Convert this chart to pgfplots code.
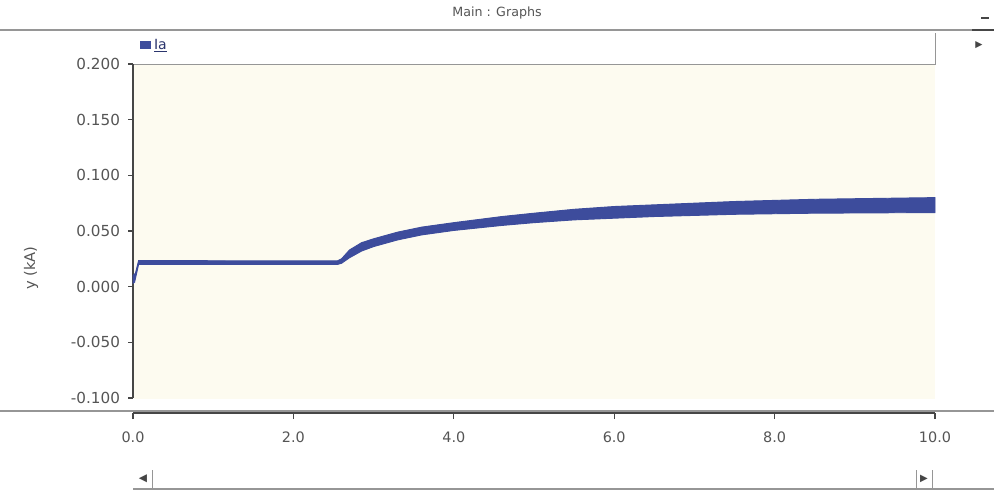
\documentclass[border=0pt]{standalone}
\usepackage{pgfplots}
\pgfplotsset{compat=1.18}
\usepackage{fontspec}
\setmainfont{DejaVu Sans}
\definecolor{iacol}{RGB}{61,76,156}
\definecolor{cream}{RGB}{253,251,240}
\definecolor{axcol}{RGB}{70,70,70}
\definecolor{txtcol}{RGB}{85,85,85}
\definecolor{sepcol}{RGB}{150,150,150}

\begin{document}
\begin{tikzpicture}
\useasboundingbox (0,0) rectangle (745.5pt,-369.75pt);
\begin{scope}[x=0.75pt,y=-0.75pt]
  \fill[white] (0,0) rectangle (994,493);
  \fill[cream] (134,64) rectangle (935,399);
  \node[txtcol, font=\fontsize{9.5}{11}\selectfont] at (497,13) {Main : Graphs};
  \draw[sepcol, line width=0.8pt] (0,30) -- (994,30);
  \draw[axcol, line width=1pt] (972,30) -- (994,30);
  \draw[axcol, line width=1.2pt] (981,18) -- (989,18);
  \node[axcol, font=\fontsize{7}{8}\selectfont] at (979,45) {▶};
  \draw[sepcol, line width=0.7pt] (133,64) -- (935,64) -- (935,33);
  \draw[sepcol, line width=0.8pt] (0,411) -- (994,411);
  % scrollbar
  \node[axcol, font=\fontsize{8}{9}\selectfont] at (143,479) {◀};
  \draw[sepcol, line width=0.6pt] (152,470) -- (152,488);
  \draw[sepcol, line width=0.6pt] (916,470) -- (916,488);
  \node[axcol, font=\fontsize{7.5}{9}\selectfont] at (924,479) {▶};
  \draw[sepcol, line width=0.6pt] (932,470) -- (932,488);
  \draw[sepcol, line width=0.9pt] (133,489) -- (994,489);
  \node[txtcol, rotate=90, font=\fontsize{11}{13}\selectfont] at (31,268) {y (kA)};
\end{scope}

\begin{axis}[
  at={(99.75pt,-298.5pt)}, anchor=south west,
  scale only axis, width=601.5pt, height=250.5pt,
  xmin=0, xmax=10, ymin=-0.1, ymax=0.2,
  hide x axis, axis y line=left,
  y axis line style={-, draw=axcol, line width=0.8pt},
  ytick={-0.1,-0.05,0,0.05,0.1,0.15,0.2},
  tick align=outside, major tick length=3.75pt,
  tick style={axcol, line width=0.8pt},
  yticklabel style={font=\fontsize{11.4}{13}\selectfont, text=txtcol, xshift=-2.5pt,
    /pgf/number format/fixed, /pgf/number format/fixed zerofill,
    /pgf/number format/precision=3, /pgf/number format/assume math mode=true},
  clip=false,
  legend style={draw=none, fill=none, inner sep=0pt,
    at={(axis description cs:0.009,1.057)}, anchor=west,
    font=\fontsize{10.5}{12}\selectfont},
  legend cell align=left,
  legend image code/.code={\fill[iacol] (0pt,-2.4pt) rectangle (7.5pt,2.4pt);},
]
\addplot[iacol, fill=iacol, line width=0.7pt] coordinates {
(0.00,0.0100) (0.03,0.0120) (0.07,0.0235) (1.00,0.0233) (2.00,0.0232) (2.55,0.0232)
(2.60,0.0250) (2.70,0.0330) (2.85,0.0395) (3.00,0.0430) (3.30,0.0490) (3.60,0.0535)
(4.00,0.0575) (4.60,0.0630) (5.00,0.0660) (5.50,0.0695) (6.00,0.0720) (6.50,0.0735)
(7.00,0.0750) (7.50,0.0765) (8.00,0.0775) (8.50,0.0785) (9.00,0.0790) (9.50,0.0795)
(10.00,0.0800)
(10.00,0.0665) (9.50,0.0664) (9.00,0.0662) (8.50,0.0660) (8.00,0.0655) (7.50,0.0650)
(7.00,0.0640) (6.50,0.0630) (6.00,0.0615) (5.50,0.0600) (5.00,0.0575) (4.60,0.0550)
(4.00,0.0505) (3.60,0.0465) (3.30,0.0420) (3.00,0.0360) (2.85,0.0320) (2.70,0.0260)
(2.60,0.0210) (2.55,0.0200) (2.00,0.0200) (1.00,0.0200) (0.07,0.0200) (0.02,0.0040)
(0.00,0.0030) (0.00,0.0100)
};
\addlegendentry{\textcolor{iacol!70!black}{\underline{Ia}}}
\end{axis}

\begin{axis}[
  at={(99.75pt,-309.75pt)}, anchor=south west,
  scale only axis, width=601.5pt, height=10pt,
  xmin=0, xmax=10, ymin=0, ymax=1,
  hide y axis, axis x line=bottom,
  x axis line style={-, draw=axcol, line width=1pt},
  xtick={0,2,4,6,8,10},
  tick align=outside, major tick length=4.5pt,
  tick style={axcol, line width=0.8pt},
  xticklabel style={font=\fontsize{10.8}{12}\selectfont, text=txtcol, yshift=-6pt,
    /pgf/number format/fixed, /pgf/number format/fixed zerofill,
    /pgf/number format/precision=1, /pgf/number format/assume math mode=true},
]
\addplot[draw=none] coordinates {(0,0) (10,1)};
\end{axis}
\end{tikzpicture}
\end{document}
